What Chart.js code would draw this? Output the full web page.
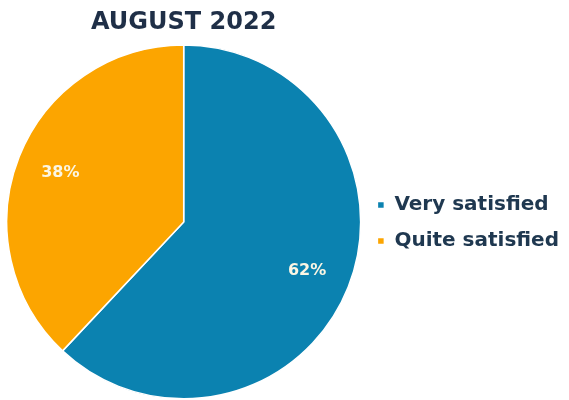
<!DOCTYPE html>
<html>
<head>
<meta charset="utf-8">
<script src="https://cdn.jsdelivr.net/npm/chart.js@4"></script>
<style>
  html, body { margin: 0; padding: 0; background: #fff; }
  #wrap { width: 569px; height: 400px; }
</style>
</head>
<body>
<div id="wrap"><canvas id="pieChart"></canvas></div>
<script>
const TITLE = "AUGUST 2022";
const categories = ["Very satisfied", "Quite satisfied"];
const values = [62, 38];
const colors = ["#0b82b0", "#fca500"];

// draws the percentage inside each slice
const sliceLabels = {
  id: "sliceLabels",
  afterDatasetsDraw(chart) {
    const ctx = chart.ctx;
    const meta = chart.getDatasetMeta(0);
    const total = values.reduce((a, b) => a + b, 0);
    ctx.save();
    ctx.font = "bold 16px 'DejaVu Sans', sans-serif";
    ctx.fillStyle = "#fbf6e4";
    ctx.textAlign = "center";
    ctx.textBaseline = "middle";
    meta.data.forEach((arc, i) => {
      const mid = (arc.startAngle + arc.endAngle) / 2;
      const r = arc.outerRadius * 0.75;
      const x = arc.x + Math.cos(mid) * r;
      const y = arc.y + Math.sin(mid) * r;
      ctx.fillText(Math.round(values[i] / total * 100) + "%", x, y);
    });
    ctx.restore();
  }
};

new Chart(document.getElementById("pieChart").getContext("2d"), {
  type: "pie",
  data: {
    labels: categories,
    datasets: [{
      data: values,
      backgroundColor: colors,
      borderColor: "#fff",
      borderWidth: 1.5
    }]
  },
  options: {
    responsive: true,
    maintainAspectRatio: false,
    animation: false,
    layout: { padding: { left: 6, top: 8, bottom: 0, right: 0 } },
    plugins: {
      title: {
        display: true,
        text: TITLE,
        fullSize: false,
        color: "#1f2f47",
        font: { family: "'DejaVu Sans', sans-serif", size: 24, weight: "bold" },
        padding: { top: 0, bottom: 7 }
      },
      legend: {
        position: "right",
        title: {
          display: true,
          text: " ",
          font: { size: 10 },
          padding: { top: 0, bottom: 26 }
        },
        labels: {
          usePointStyle: true,
          pointStyle: "rect",
          boxWidth: 7,
          boxHeight: 7,
          padding: 16,
          color: "#1f3850",
          font: { family: "'DejaVu Sans', sans-serif", size: 20, weight: "bold" }
        }
      },
      tooltip: { enabled: false }
    }
  },
  plugins: [sliceLabels]
});
</script>
</body>
</html>
